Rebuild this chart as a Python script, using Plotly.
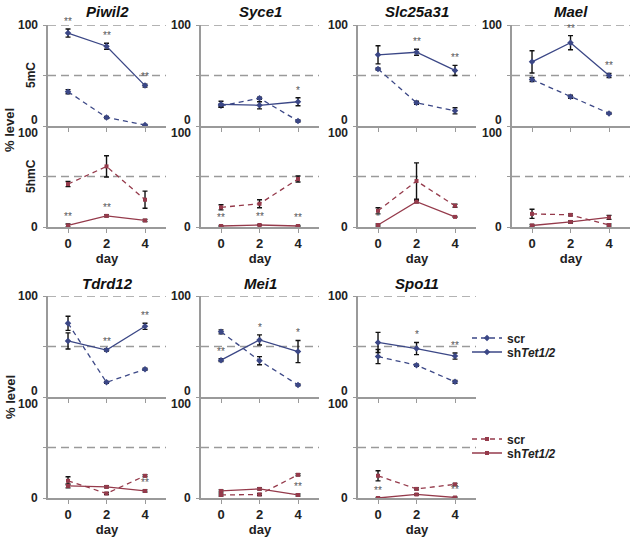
import plotly.graph_objects as go

days = [0, 2, 4]
genes = ["Piwil2", "Syce1", "Slc25a31", "Mael", "Tdrd12", "Mei1", "Spo11"]

# 5mC (%), scr and shTet1/2, with error bars
mc_scr = [[34, 8.5, 1], [20, 27.5, 5], [56.5, 23, 15], [46, 29, 12.5],
          [73, 14.5, 27.5], [64.5, 36, 12], [40, 31.5, 15]]
mc_scr_err = [[2, 1, 0.5], [1.5, 1, 1], [1, 1.5, 3], [2, 1.5, 1],
              [7, 1, 1], [2, 4, 1], [7, 1, 1.5]]
mc_sh = [[92, 79, 40], [21.5, 20.5, 24], [70.5, 73, 55], [63.5, 82.5, 50],
         [55.5, 46.5, 70], [36.5, 56.5, 45], [54, 48, 40.5]]
mc_sh_err = [[4, 3, 1.5], [3, 3.5, 4], [9, 3, 5], [11, 7, 2],
             [8, 1, 3], [1.5, 5, 11], [10, 6, 3]]
mc_sig = [["**", "**", "**"], ["", "", "*"], ["", "**", "**"], ["", "**", "**"],
          ["", "**", "**"], ["**", "*", "*"], ["", "*", "**"]]

# 5hmC (%), scr and shTet1/2, with error bars
hmc_scr = [[42.5, 60, 27], [19.5, 23, 47.5], [16, 45.5, 21], [13, 12, 2],
           [17, 4.5, 22], [3, 3.5, 23], [22, 9, 13.5]]
hmc_scr_err = [[2.5, 10.5, 8.5], [2.5, 4, 3], [3, 18, 1.5], [4.5, 1, 1],
               [4, 1, 1], [1, 1, 1], [5, 1, 1]]
hmc_sh = [[1.5, 11, 6.5], [1, 2, 1], [2, 25, 10], [1.5, 5, 9.5],
          [12, 11, 7], [7, 9, 3], [0, 3.5, 0.5]]
hmc_sh_err = [[1.5, 1, 1], [0.5, 0.5, 0.5], [1, 1, 0.5], [1, 1, 2],
              [2, 1, 1], [1, 1, 1], [0.5, 0.5, 0.5]]
hmc_sig = [["**", "**", ""], ["**", "**", "**"], ["*", "", ""], ["", "", ""],
           ["", "", "**"], ["", "", "**"], ["**", "", "**"]]

y_ticks = [0, 50, 100]
y_labels = [0, 100]
grid_vals = [50, 100]

W, H = 630, 541
BLUE = "#3b4786"
RED = "#953a4b"
GRAY = "#9a9a9a"
FONT = "Liberation Sans, Arial, sans-serif"

col_left = [48, 201, 358, 512]
col_right = [166, 319, 476, 630]
rows = [{"mc": (25, 126), "hmc": (126, 227), "title": 11},
        {"mc": (296, 397), "hmc": (397, 498), "title": 283}]
panel_pos = [(0, 0), (0, 1), (0, 2), (0, 3), (1, 0), (1, 1), (1, 2)]
legend_rows = {"legend": 338, "legend2": 352, "legend3": 439, "legend4": 453}


def px(x):
    return x / W


def py(y):
    return 1 - y / H


fig = go.Figure()
annotations = []
shapes = []
layout = {}

for p, gene in enumerate(genes):
    r, c = panel_pos[p]
    row = rows[r]
    xd = [px(col_left[c]), px(col_right[c])]
    for k, kind in enumerate(["mc", "hmc"]):
        idx = 2 * p + k + 1
        xa = "x" if idx == 1 else f"x{idx}"
        ya = "y" if idx == 1 else f"y{idx}"
        top, bot = row[kind]
        yd = [py(bot), py(top)]
        is_bottom = kind == "hmc"
        layout["xaxis" if idx == 1 else f"xaxis{idx}"] = dict(
            domain=xd, anchor=ya, range=[-1.04, 5.09],
            showline=True, linecolor=GRAY, linewidth=1.5,
            ticks="outside", ticklen=4, tickcolor=GRAY, tickwidth=1.2,
            tickvals=days, showticklabels=is_bottom, showgrid=False, zeroline=False,
            tickfont=dict(family=FONT, size=13, color="#222", weight="bold"),
            title=dict(text="day" if is_bottom else "",
                       font=dict(family=FONT, size=13, color="#222", weight="bold"),
                       standoff=0),
        )
        layout["yaxis" if idx == 1 else f"yaxis{idx}"] = dict(
            domain=yd, anchor=xa, range=[0, 100],
            showline=True, linecolor=GRAY, linewidth=1.5,
            ticks="outside", ticklen=3, tickcolor=GRAY, tickwidth=1.2,
            tickvals=y_ticks,
            showticklabels=False, showgrid=False, zeroline=False,
        )
        for g in grid_vals:
            shapes.append(dict(type="line", xref=f"{xa} domain", yref=ya,
                               x0=0, x1=1, y0=g, y1=g, layer="below",
                               line=dict(color=GRAY, width=1.4, dash="8px,5px")))
        # y tick labels: the 0 of 5mC and the 100 of 5hmC are pushed apart
        for v in y_labels:
            ypix = bot - (bot - top) * v / 100
            if kind == "mc" and v == 0:
                ypix -= 6
            if kind == "hmc" and v == 100:
                ypix += 7
            annotations.append(dict(
                xref="paper", yref="paper", x=xd[0], y=py(ypix), xanchor="right",
                yanchor="middle", xshift=-8, showarrow=False,
                text=f"<b>{v}</b>",
                font=dict(family=FONT, size=12, color="#222")))

        if kind == "mc":
            scr, scr_e, sh, sh_e, sig = mc_scr[p], mc_scr_err[p], mc_sh[p], mc_sh_err[p], mc_sig[p]
            color, sym, size, legs = BLUE, "diamond", 5, ("legend", "legend2")
        else:
            scr, scr_e, sh, sh_e, sig = hmc_scr[p], hmc_scr_err[p], hmc_sh[p], hmc_sh_err[p], hmc_sig[p]
            color, sym, size, legs = RED, "square", 4, ("legend3", "legend4")

        fig.add_trace(go.Scatter(
            x=days, y=scr, xaxis=xa, yaxis=ya, mode="lines+markers", name="scr",
            legend=legs[0], showlegend=(p == 0), cliponaxis=False,
            line=dict(color=color, width=1.3, dash="5px,4px"),
            marker=dict(symbol=sym, size=size, color=color),
            error_y=dict(type="data", array=scr_e, color="#111", thickness=1.4, width=2.5),
        ))
        fig.add_trace(go.Scatter(
            x=days, y=sh, xaxis=xa, yaxis=ya, mode="lines+markers",
            name="sh<i>Tet1/2</i>",
            legend=legs[1], showlegend=(p == 0), cliponaxis=False,
            line=dict(color=color, width=1.3),
            marker=dict(symbol=sym, size=size, color=color),
            error_y=dict(type="data", array=sh_e, color="#111", thickness=1.4, width=2.5),
        ))
        for d, s, v, e in zip(days, sig, sh, sh_e):
            if s:
                annotations.append(dict(
                    xref=xa, yref=ya, x=d, y=v + e, xanchor="center", yanchor="bottom",
                    yshift=0, showarrow=False, text=s, opacity=0.99,
                    font=dict(family=FONT, size=10, color="#555")))

    # gene title
    annotations.append(dict(
        xref="paper", yref="paper", x=(xd[0] + xd[1]) / 2, y=py(row["title"]),
        xanchor="center", yanchor="middle", showarrow=False,
        text=f"<b><i>{gene}</i></b>", font=dict(family=FONT, size=15, color="#111")))

# side labels
side = dict(xref="paper", yref="paper", xanchor="center", yanchor="middle",
            textangle=-90, showarrow=False)
annotations += [
    dict(x=px(31), y=py(75), text="<b>5mC</b>",
         font=dict(family=FONT, size=12, color="#222"), **side),
    dict(x=px(31), y=py(176), text="<b>5hmC</b>",
         font=dict(family=FONT, size=12, color="#222"), **side),
    dict(x=px(10), y=py(130), text="<b>% level</b>",
         font=dict(family=FONT, size=13, color="#222"), **side),
    dict(x=px(10), y=py(397), text="<b>% level</b>",
         font=dict(family=FONT, size=13, color="#222"), **side),
]

legend_style = dict(xanchor="left", yanchor="middle", bgcolor="rgba(0,0,0,0)",
                    font=dict(family=FONT, size=12, color="#222", weight="bold"),
                    itemwidth=30, tracegroupgap=0)
for name, yc in legend_rows.items():
    layout[name] = dict(x=px(467), y=py(yc), **legend_style)

fig.update_layout(
    width=W, height=H, margin=dict(l=0, r=0, t=0, b=0),
    paper_bgcolor="white", plot_bgcolor="white",
    shapes=shapes, annotations=annotations,
    **layout,
)

fig.write_html("out.html")
